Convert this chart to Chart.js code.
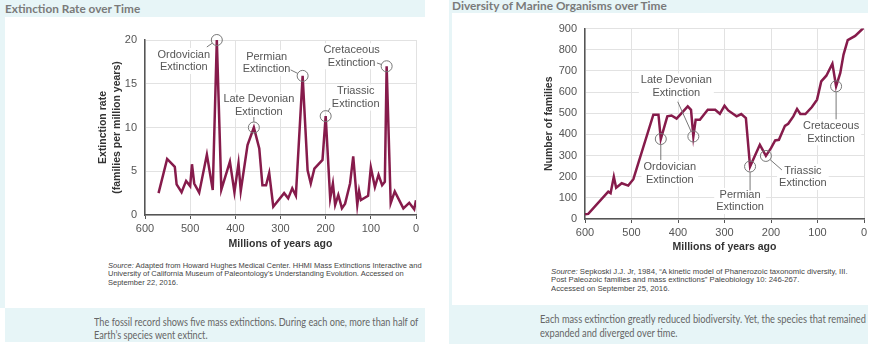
<!DOCTYPE html>
<html>
<head>
<meta charset="utf-8">
<script src="https://cdn.jsdelivr.net/npm/chart.js@4"></script>
<style>
  body { margin: 0; width: 871px; height: 347px; overflow: hidden; background: #fff; position: relative; }
  .band { position: absolute; background: #e7f5f7; }
  .txt { position: absolute; white-space: nowrap; transform-origin: 0 0; }
  .ttl { font: 700 11px Lato, sans-serif; color: #7a7a7a; }
  .cap { font: 10.5px Lato, sans-serif; color: #666; line-height: 13px; }
  .src { font: 7px "Liberation Sans", sans-serif; color: #444; line-height: 8.5px; }
  .box { position: absolute; }
</style>
</head>
<body>
<!-- left panel -->
<div class="band" style="left:0;top:0;width:425px;height:17px"></div>
<div class="band" style="left:0;top:17px;width:5px;height:291px"></div>
<div class="band" style="left:5px;top:308px;width:420px;height:34px"></div>
<div class="txt ttl" data-w="135" style="left:5px;top:0;line-height:17px">Extinction Rate over Time</div>
<div class="box" style="left:0;top:0;width:430px;height:260px"><canvas id="rateChart"></canvas></div>
<div class="txt src" data-w="314" style="left:108px;top:261.5px"><i>Source:</i> Adapted from Howard Hughes Medical Center. HHMI Mass Extinctions Interactive and<br>University of California Museum of Paleontology’s Understanding Evolution. Accessed on<br>September 22, 2016.</div>
<div class="txt cap" data-w="324" style="left:94px;top:315.5px">The fossil record shows five mass extinctions. During each one, more than half of<br>Earth’s species went extinct.</div>

<!-- right panel -->
<div class="band" style="left:449px;top:0;width:419px;height:13px"></div>
<div class="band" style="left:449px;top:13px;width:3px;height:292px"></div>
<div class="band" style="left:449px;top:305px;width:419px;height:39px"></div>
<div class="txt ttl" data-w="215" style="left:452px;top:0;line-height:12px">Diversity of Marine Organisms over Time</div>
<div class="box" style="left:440px;top:0;width:431px;height:265px"><canvas id="familyChart"></canvas></div>
<div class="txt src" data-w="297" style="left:551px;top:267.5px"><i>Source:</i> Sepkoski J.J. Jr, 1984, “A kinetic model of Phanerozoic taxonomic diversity, III.<br>Post Paleozoic families and mass extinctions” Paleobiology 10: 246-267.<br>Accessed on September 25, 2016.</div>
<div class="txt cap" data-w="326" style="left:540px;top:312px;line-height:14px">Each mass extinction greatly reduced biodiversity. Yet, the species that remained<br>expanded and diverged over time.</div>

<script>
// extinction rate (families per million years) by millions of years ago
const rateYears = [570, 551, 534, 530, 519, 509, 500, 496, 491, 480, 463, 450, 441, 431, 412, 402, 393, 388,
  373, 359, 347, 340, 332, 325, 316, 292, 283, 274, 266, 251, 240, 233, 225, 207, 200, 190, 184, 179, 172,
  164, 157, 146, 139, 130, 126, 122, 106, 100, 91, 83, 75, 69, 65, 56, 47, 28, 15, 4, 0];
const rateValues = [2.5, 6.4, 5.5, 3.5, 2.6, 3.9, 3.3, 5.8, 3.6, 2.55, 6.9, 2.85, 20, 2.9, 6.1, 2.6, 5.9, 2.75,
  8.0, 10, 7.6, 3.4, 3.4, 4.8, 0.95, 2.5, 1.9, 3.05, 2.2, 15.9, 5.1, 3.6, 5.3, 6.3, 11.3, 1.9, 3.6, 1.15, 2.3,
  0.76, 1.3, 3.6, 6.7, 1.15, 2.75, 1.7, 2.2, 5.45, 3.2, 4.6, 3.4, 3.8, 17, 1.35, 2.7, 0.76, 1.4, 0.65, 1.7];

// number of marine families by millions of years ago
const familyYears = [600, 593, 550, 545, 538, 533, 521, 507, 496, 453, 442, 437, 423, 414, 403, 379, 372, 367,
  362, 353, 336, 320, 310, 300, 292, 274, 264, 254, 245, 224, 220, 211, 200, 191, 183, 170, 163, 152, 144,
  137, 126, 112, 101, 92, 81, 68, 60, 51, 44, 35, 19, 0];
const familyCounts = [22, 24, 129, 122, 200, 148, 169, 158, 188, 493, 493, 378, 485, 489, 474, 532, 516, 390,
  469, 469, 516, 516, 497, 535, 513, 485, 496, 477, 248, 351, 335, 298, 335, 371, 374, 440, 450, 485, 520,
  496, 496, 529, 564, 650, 677, 734, 627, 690, 777, 845, 865, 905];

const yearTicks = [600, 500, 400, 300, 200, 100, 0];
const rateTicks = [0, 5, 10, 15, 20];
const familyTicks = [0, 100, 200, 300, 400, 500, 600, 700, 800, 900];

const eventNames = ['Ordovician', 'Late Devonian', 'Permian', 'Triassic', 'Cretaceous'];
const rateEventYears = [441, 359, 251, 200, 65];
const familyEventYears = [437, 367, 245, 211, 60];

// label centre (dx, dy) and leader start (lx, ly), relative to the marked point
const rateLabelPlace = [[-33, 21, -10, 7], [5, -22, 0, -10.5], [-36, -13, -12, -6], [30, -18.5, 4.3, -8], [-35, -10, -9.7, -3.3]];
const familyLabelPlace = [[9, 34.5, 0, 21], [-17, -50, -15.6, -34.7], [-10, 34.5, 0, 24], [37, 21, 16, 14], [-5, 46, 0, 33]];

Chart.defaults.font.family = '"Liberation Sans", Arial, sans-serif';

function markPoint(chart, yr) {
  const data = chart.data.datasets[0].data;
  const pt = data.find(d => d.x === yr);
  return { x: chart.scales.x.getPixelForValue(pt.x), y: chart.scales.y.getPixelForValue(pt.y) };
}

const eventMarks = {
  id: 'eventMarks',
  beforeDatasetsDraw(chart, args, opts) {
    const ctx = chart.ctx;
    ctx.save();
    ctx.font = '11px "Liberation Sans"';
    ctx.textAlign = 'center';
    ctx.textBaseline = 'middle';
    opts.years.forEach((yr, i) => {
      const p = markPoint(chart, yr);
      const pl = opts.place[i];
      const lines = [eventNames[i], 'Extinction'];
      const cx = p.x + pl[0], cy = p.y + pl[1];
      const w = Math.max(...lines.map(t => ctx.measureText(t).width)) + 4;
      ctx.fillStyle = '#fff';
      ctx.fillRect(cx - w / 2, cy - 13, w, 26);
      ctx.fillStyle = '#555';
      ctx.fillText(lines[0], cx, cy - 6.25);
      ctx.fillText(lines[1], cx, cy + 6.25);
    });
    ctx.restore();
  },
  afterDatasetsDraw(chart, args, opts) {
    const ctx = chart.ctx;
    const r = 5.5;
    ctx.save();
    ctx.strokeStyle = '#777';
    ctx.lineWidth = 1;
    opts.years.forEach((yr, i) => {
      const p = markPoint(chart, yr);
      const pl = opts.place[i];
      const sx = p.x + pl[2], sy = p.y + pl[3];
      const len = Math.hypot(pl[2], pl[3]);
      ctx.beginPath();
      ctx.moveTo(sx, sy);
      ctx.lineTo(p.x + pl[2] / len * r, p.y + pl[3] / len * r);
      ctx.stroke();
      ctx.beginPath();
      ctx.arc(p.x, p.y, r, 0, Math.PI * 2);
      ctx.stroke();
    });
    ctx.restore();
  }
};

function makeChart(id, years, values, yTicks, yMax, yTitle, opts) {
  new Chart(document.getElementById(id), {
    type: 'line',
    data: {
      datasets: [{
        data: years.map((yr, i) => ({ x: yr, y: values[i] })),
        borderColor: '#861b4b',
        borderWidth: 2.5,
        pointRadius: 0,
        tension: 0
      }]
    },
    options: {
      responsive: true,
      maintainAspectRatio: false,
      animation: false,
      layout: { padding: opts.padding },
      plugins: {
        legend: { display: false },
        tooltip: { enabled: false },
        eventMarks: { years: opts.eventYears, place: opts.place }
      },
      scales: {
        x: {
          type: 'linear',
          reverse: true,
          min: 0,
          max: 600,
          afterBuildTicks: s => { s.ticks = yearTicks.map(v => ({ value: v })); },
          afterFit: s => { s.height = opts.xHeight; },
          ticks: { color: '#555', font: { size: 11 }, padding: 3 },
          grid: { color: '#e2e2e2', tickColor: '#555', tickLength: 4 },
          border: { color: '#555', width: 1.5 },
          title: {
            display: true,
            text: 'Millions of years ago',
            color: '#333',
            font: { size: 10.5, weight: 'bold' },
            padding: { top: 0, bottom: opts.xTitlePad }
          }
        },
        y: {
          min: 0,
          max: yMax,
          afterBuildTicks: s => { s.ticks = yTicks.map(v => ({ value: v })); },
          afterFit: s => { s.width = opts.yWidth; },
          ticks: { color: '#555', font: { size: 11 }, padding: 8 },
          grid: { color: '#e2e2e2', drawTicks: false },
          border: { color: '#555', width: 1.5 },
          title: {
            display: true,
            text: yTitle,
            color: '#333',
            font: { size: 10.5, weight: 'bold', lineHeight: 1.35 },
            padding: 0
          }
        }
      }
    },
    plugins: [eventMarks]
  });
}

makeChart('rateChart', rateYears, rateValues, rateTicks, 20,
  ['Extinction rate', '(families per million years)'],
  { padding: { left: 96, right: 14, top: 40, bottom: 0 }, yWidth: 49, xHeight: 45, xTitlePad: 9.7,
    eventYears: rateEventYears, place: rateLabelPlace });

makeChart('familyChart', familyYears, familyCounts, familyTicks, 900,
  'Number of families',
  { padding: { left: 102, right: 7, top: 28.5, bottom: 0 }, yWidth: 43, xHeight: 46, xTitlePad: 11.7,
    eventYears: familyEventYears, place: familyLabelPlace });

// squeeze the html texts to the widths seen in the picture
document.querySelectorAll('.txt[data-w]').forEach(el => {
  const k = Number(el.dataset.w) / el.scrollWidth;
  el.style.transform = 'scaleX(' + k.toFixed(3) + ')';
});
</script>
</body>
</html>
